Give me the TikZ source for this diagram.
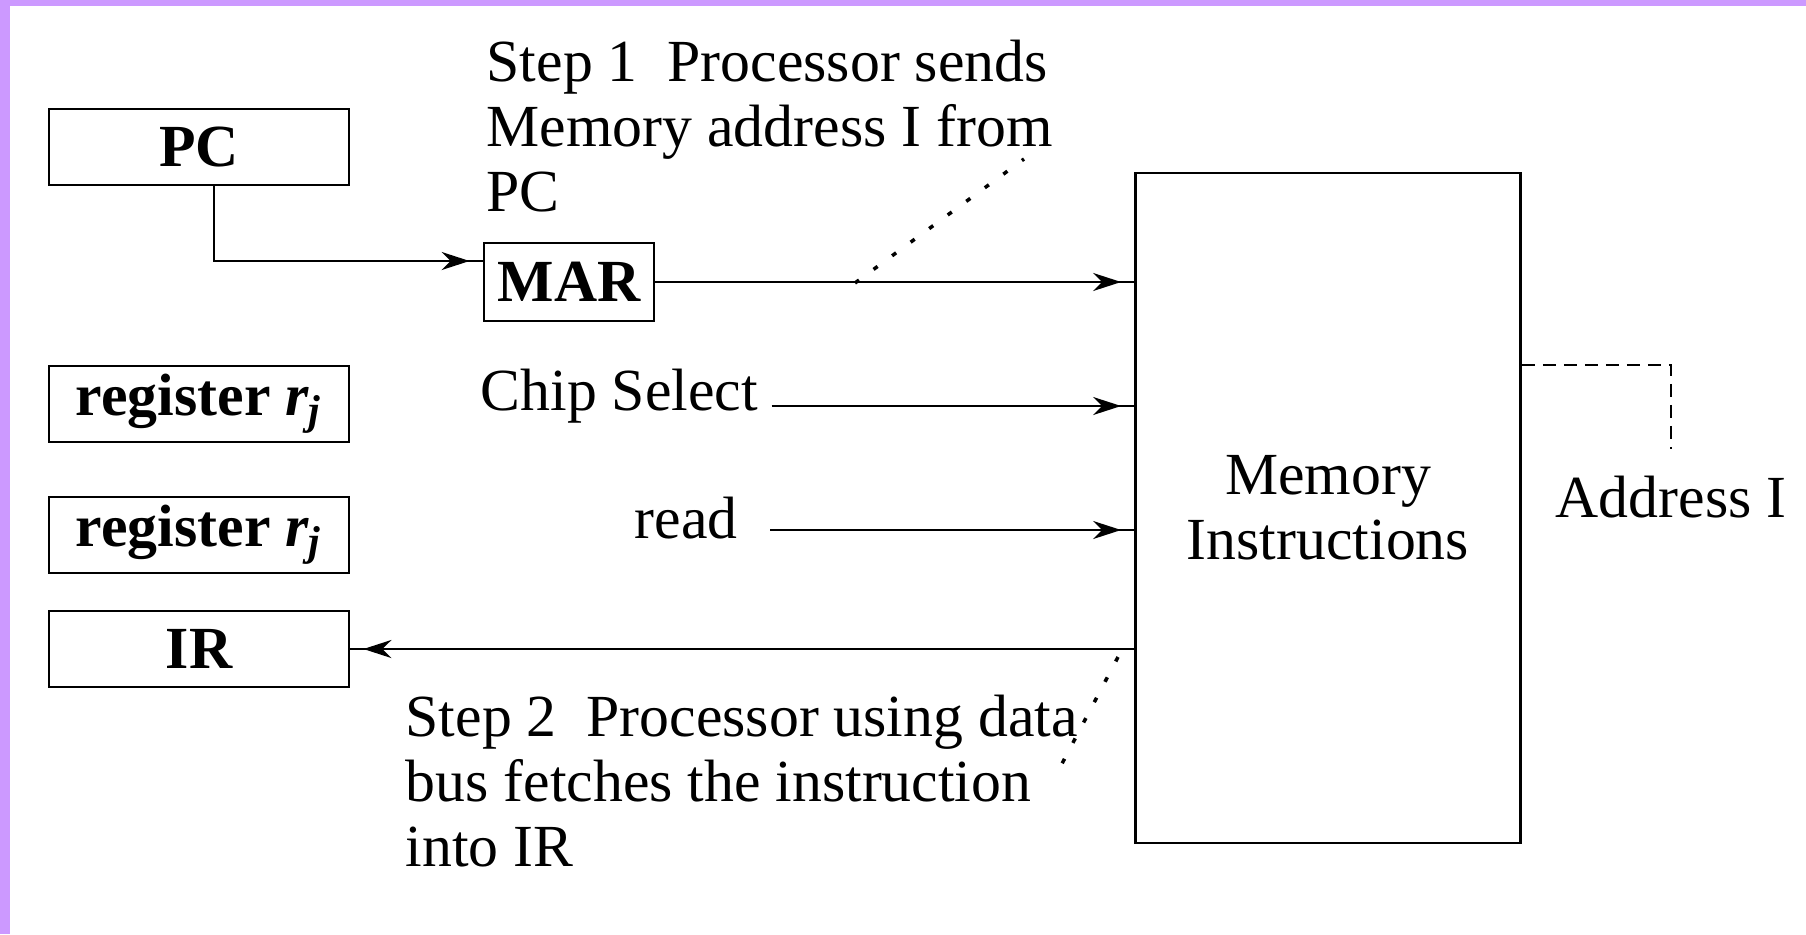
\documentclass[tikz,border=0pt]{standalone}
\usepackage{fontspec}
\setmainfont{Liberation Serif}
\usetikzlibrary{arrows.meta,positioning,calc}
\definecolor{framepurple}{HTML}{CC99FF}

\begin{document}
\begin{tikzpicture}[
  x=0.1mm,y=-0.1mm,
  font=\fontsize{17pt}{18.5pt}\selectfont,
  reg/.style={draw,line width=0.8pt,minimum width=30mm,minimum height=7.6mm,inner sep=0pt,
              font=\fontsize{17pt}{18.5pt}\selectfont\bfseries},
  txt/.style={inner sep=0pt,align=left},
  arr/.style={line width=0.8pt,-{Stealth[length=2.8mm,width=1.8mm,inset=0.9mm]Rectangle[length=1.3mm,width=0.8pt,line width=0pt]}},
  lead/.style={line width=1pt,dash pattern=on 0.5mm off 1.8mm},
  dsh/.style={line width=0.8pt,dash pattern=on 1.3mm off 0.8mm}
]
\useasboundingbox (0,0) rectangle (1806,934);
\fill[framepurple] (0,0) rectangle (1806,6);
\fill[framepurple] (0,0) rectangle (10,934);

% processor registers
\node[reg] (pc)  at (199,147) {PC};
\node[reg] (rj1) at (199,404) {register {\itshape r\textsubscript{j}}};
\node[reg] (rj2) at (199,535) {register {\itshape r\textsubscript{j}}};
\node[reg] (ir)  at (199,649) {IR};
\node[reg,minimum width=17mm,minimum height=7.8mm] (mar) at (569,282) {MAR};

% memory
\node[draw,line width=0.8pt,minimum width=38.5mm,minimum height=67mm,align=center] (mem) at (1328,508)
  {Memory\\Instructions};

% labels
\node[txt,anchor=north west] (stepa) at (486,39) {Step 1\enspace Processor sends\\Memory address I from\\PC};
\node[txt,anchor=base west] (chip) at (480,410) {Chip Select};
\node[txt,anchor=base west] (rd) at (634,538) {read};
\node[txt,anchor=base] (addr) at (1671,517) {Address I};
\node[txt,anchor=north west] (stepb) at (405,694) {Step 2\enspace Processor using data\\bus fetches the instruction\\into IR};

% buses and control lines
\draw[arr] ([xshift=1.5mm]pc.south) |- ([yshift=2.1mm]mar.west);
\draw[arr] (mar.east) -- (mar.east -| mem.west);
\coordinate (csx) at ([shift={(1.3mm,0.4mm)}]chip.base east);
\draw[arr] (csx) -- (csx -| mem.west);
\coordinate (rdx) at ([shift={(3.2mm,0.8mm)}]rd.base east);
\draw[arr] (rdx) -- (rdx -| mem.west);
\draw[arr] (ir.east -| mem.west) -- (ir.east);
\draw[dsh] (mem.east |- 0,365) -| ([yshift=2.6mm]addr.north);

% leaders to the step notes
\coordinate (la) at (855,283);
\coordinate (lb) at (1024,159);
\draw[lead] (la) -- (lb);
\coordinate (lc) at (1118,657);
\coordinate (ld) at (1056,775);
\draw[lead] (lc) -- (ld);
\end{tikzpicture}
\end{document}
